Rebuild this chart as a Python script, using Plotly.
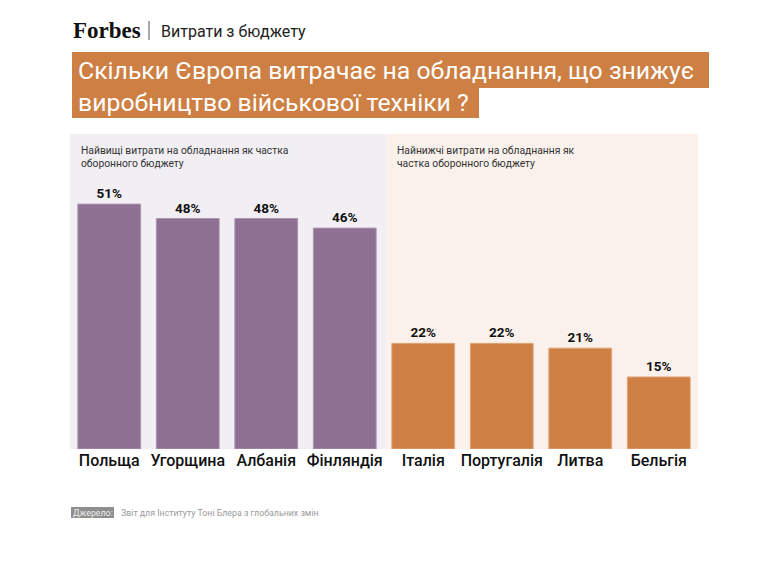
import plotly.graph_objects as go

# data
countries = ["Польща", "Угорщина", "Албанія", "Фінляндія",
             "Італія", "Португалія", "Литва", "Бельгія"]
shares = [51, 48, 48, 46, 22, 22, 21, 15]
groups = ["high", "high", "high", "high", "low", "low", "low", "low"]

title_lines = ["Скільки Європа витрачає на обладнання, що знижує",
               "виробництво військової техніки ?"]
high_note = "Найвищі витрати на обладнання як частка<br>оборонного бюджету"
low_note = "Найнижчі витрати на обладнання як<br>частка оборонного бюджету"
source_label = "Джерело:"
source_text = "Звіт для Інституту Тоні Блера з глобальних змін"

PURPLE = "#8d7092"
ORANGE = "#ce7f43"
FONT = "Roboto, sans-serif"

# page has an 8px body margin, so positions below are page pixels minus OFF
OFF = 8
W, H = 756, 556
L, R, T, B = 62, 66, 126, 115


def px_x(p):
    return (p - OFF - L) / (W - L - R)


def px_y(p):
    return (H - B - (p - OFF)) / (H - T - B)


fill = [PURPLE if g == "high" else ORANGE for g in groups]
edge = ["#ad94b0" if g == "high" else "#e3a578" for g in groups]

fig = go.Figure(go.Bar(
    x=countries, y=shares,
    marker=dict(color=fill, line=dict(color=edge, width=1)),
    text=[f"<b>{v}%</b>" for v in shares], textposition="outside",
    outsidetextfont=dict(family=FONT, size=13.5, color="#111"),
    cliponaxis=False,
))

shapes = [
    # panel backgrounds
    dict(type="rect", xref="paper", yref="paper", layer="below", line_width=0,
         x0=px_x(70), x1=px_x(386), y0=px_y(449), y1=px_y(134), fillcolor="#f1eff3"),
    dict(type="rect", xref="paper", yref="paper", layer="below", line_width=0,
         x0=px_x(386), x1=px_x(698), y0=px_y(449), y1=px_y(134), fillcolor="#faf1ec"),
    # title boxes
    dict(type="rect", xref="paper", yref="paper", line_width=0,
         x0=px_x(72), x1=px_x(709), y0=px_y(88), y1=px_y(52), fillcolor=ORANGE),
    dict(type="rect", xref="paper", yref="paper", line_width=0,
         x0=px_x(72), x1=px_x(479), y0=px_y(118), y1=px_y(87), fillcolor=ORANGE),
    # separator after logo
    dict(type="line", xref="paper", yref="paper", line=dict(color="#555", width=1),
         x0=px_x(149), x1=px_x(149), y0=px_y(40), y1=px_y(21)),
    # source tag
    dict(type="rect", xref="paper", yref="paper", line_width=0,
         x0=px_x(71), x1=px_x(114), y0=px_y(518), y1=px_y(507), fillcolor="#8f8f8f"),
]

annotations = [
    dict(text="<b>Forbes</b>", x=px_x(71), y=px_y(30), xanchor="left", yanchor="middle",
         font=dict(family="Liberation Serif, serif", size=23, color="#111")),
    dict(text="Витрати з бюджету", x=px_x(159), y=px_y(31), xanchor="left", yanchor="middle",
         font=dict(family=FONT, size=16, color="#222")),
    dict(text=title_lines[0], x=px_x(76), y=px_y(70), xanchor="left", yanchor="middle",
         font=dict(family=FONT, size=24.8, color="white")),
    dict(text=title_lines[1], x=px_x(76), y=px_y(103), xanchor="left", yanchor="middle",
         font=dict(family=FONT, size=24.8, color="white")),
    dict(text=high_note, x=px_x(79), y=px_y(142), xanchor="left", yanchor="top", align="left",
         font=dict(family=FONT, size=10.3, color="#333")),
    dict(text=low_note, x=px_x(395), y=px_y(142), xanchor="left", yanchor="top", align="left",
         font=dict(family=FONT, size=10.3, color="#333")),
    dict(text=source_label, x=px_x(92.5), y=px_y(512.5), xanchor="center", yanchor="middle",
         font=dict(family=FONT, size=8.8, color="#eeeeee")),
    dict(text=source_text, x=px_x(119), y=px_y(512.5), xanchor="left", yanchor="middle",
         font=dict(family=FONT, size=8.8, color="#9a9a9a")),
]
for a in annotations:
    a.update(xref="paper", yref="paper", showarrow=False)

fig.update_layout(
    width=W, height=H,
    margin=dict(l=L, r=R, t=T, b=B),
    paper_bgcolor="white", plot_bgcolor="rgba(0,0,0,0)",
    showlegend=False, bargap=0.2,
    shapes=shapes, annotations=annotations,
    xaxis=dict(showgrid=False, showline=False, zeroline=False, ticks="",
               tickfont=dict(family=FONT, size=16, color="#111", weight=500)),
    yaxis=dict(range=[0, 65.6], visible=False, showgrid=False, zeroline=False),
)

fig.write_html("out.html")
